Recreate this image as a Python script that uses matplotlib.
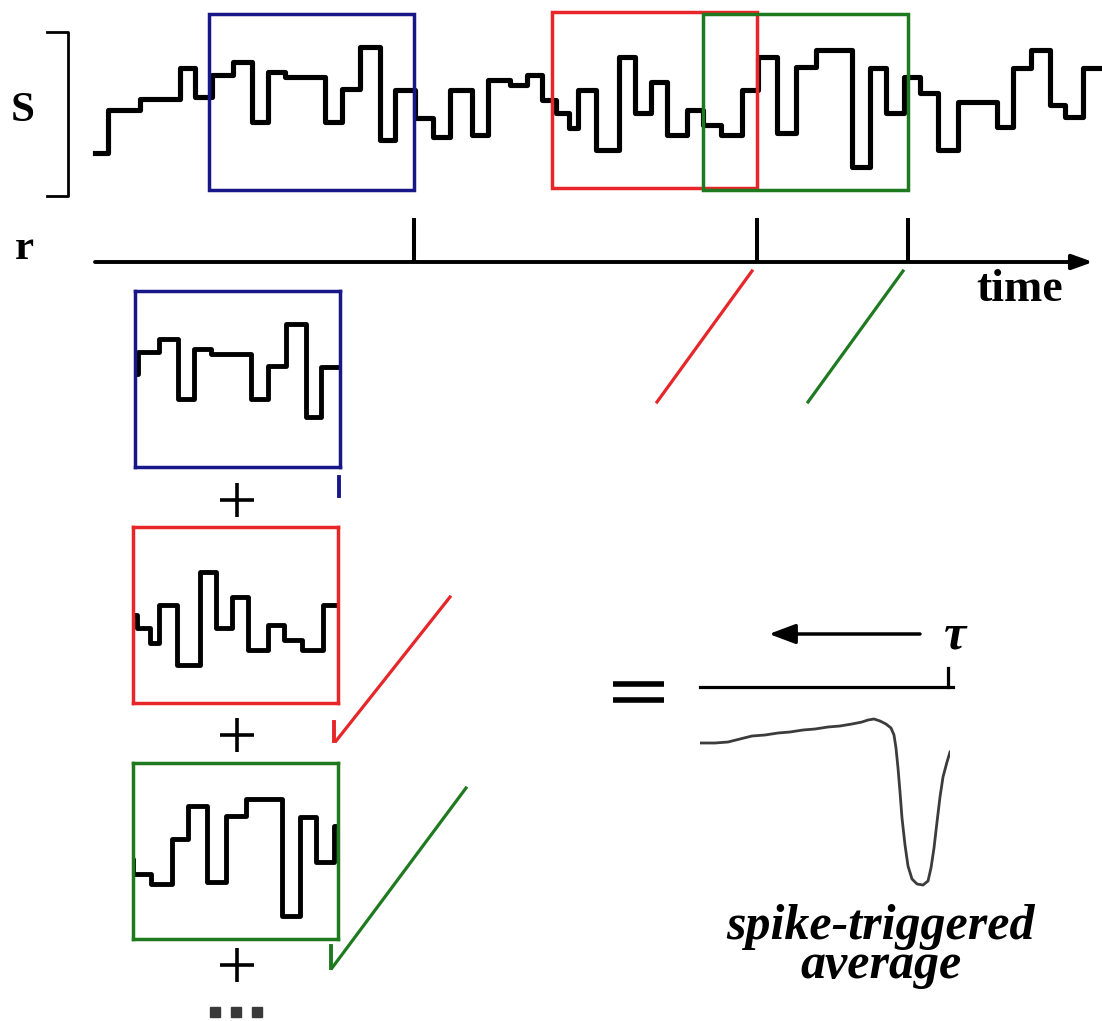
import matplotlib
matplotlib.use("Agg")
import numpy as np
import matplotlib.pyplot as plt
from matplotlib.patches import Rectangle
from matplotlib.transforms import blended_transform_factory

W, H = 1102, 1021

# stimulus s(t): times (ms) at which the level changes, and the level held after each change
stim_t = [0, 13, 45, 85, 100, 117, 138, 157, 173, 190, 230, 247, 265, 285, 300, 320,
          338, 355, 377, 393, 415, 432, 447, 461, 474, 483, 501, 524, 540, 556, 572,
          592, 608, 626, 647, 663, 682, 701, 721, 757, 775, 791, 809, 825, 843, 863,
          902, 918, 936, 955, 970, 988, 1005]
stim_v = [47, 90, 101, 132, 103, 125, 138, 78, 128, 123, 78, 111, 153, 60, 110, 82,
          63, 110, 65, 120, 115, 125, 100, 87, 72, 110, 50, 143, 87, 118, 65,
          90, 75, 65, 110, 143, 67, 133, 150, 33, 132, 87, 123, 107, 50, 98,
          73, 132, 150, 95, 83, 132]

# spike train r(t) and the stretch of stimulus kept before each spike
spike_t = [319, 662, 813]
window = 205
box_lo, box_hi = 10, 186
win_colors = ["#17178a", "#e62628", "#1f7a1f"]

# spike-triggered average, tau = time before the spike (ms)
sta_tau = [-250, -235, -222, -210, -198, -185, -172, -160, -147, -135, -122, -110,
           -98, -88, -82, -76, -70, -64, -59, -56, -54, -52, -50, -48, -45, -42,
           -38, -33, -27, -22, -19, -16, -13, -10, -7, -3, 0]
sta_v = [0, 0, 1, 4, 7, 8, 10, 11, 13, 14, 16, 17, 19, 21, 23, 24, 22, 19, 15, 8,
         -5, -25, -49, -75, -102, -123, -136, -141, -142, -138, -125, -105, -79,
         -54, -34, -19, -9]

fig = plt.figure(figsize=(W / 100, H / 100), dpi=100)
canvas = fig.add_axes([0, 0, 1, 1])
canvas.set_xlim(0, W)
canvas.set_ylim(H, 0)
canvas.axis("off")


def px_axes(x0, y0, x1, y1):
    a = fig.add_axes([x0 / W, 1 - y1 / H, (x1 - x0) / W, (y1 - y0) / H])
    a.set_xticks([])
    a.set_yticks([])
    a.patch.set_alpha(0)
    return a


serif = dict(family="Liberation Serif", weight="bold")
levels = stim_v + [stim_v[-1]]

# full stimulus with the three windows
ax_s = px_axes(95, 0, 1100, 200)
ax_s.set_xlim(0, 1005)
ax_s.set_ylim(0, 200)
for sp in ax_s.spines.values():
    sp.set_visible(False)
ax_s.step(stim_t, levels, where="post", color="k", lw=3.7, clip_on=False)
for i, (t, c) in enumerate(zip(spike_t, win_colors)):
    shift = 2 if i == 1 else 0
    ax_s.add_patch(Rectangle((t - window, box_lo + shift), window, box_hi - box_lo,
                             fill=False, ec=c, lw=2.5, clip_on=False, zorder=3))

# stimulus bracket and labels
canvas.plot([47, 68, 68, 47], [32, 32, 196, 196], color="k", lw=2.0)
canvas.text(23, 111, "S", fontsize=31, ha="center", va="center", **serif)
canvas.text(24, 249, "r", fontsize=31, ha="center", va="center", **serif)

# time axis with spikes
canvas.annotate("", xy=(1093, 262), xytext=(95, 262),
                arrowprops=dict(arrowstyle="-|>,head_length=1.25,head_width=0.45",
                                lw=2.8, color="k", shrinkA=0, shrinkB=0))
canvas.text(1020, 290, "time", fontsize=33, ha="center", va="center", **serif)
spk = blended_transform_factory(ax_s.transData, canvas.transData)
for t in spike_t:
    canvas.plot([t, t], [218, 262], color="k", lw=2.9, transform=spk,
                solid_capstyle="butt")

# flipped windows copied below the axis
for t, c in zip(spike_t[1:], win_colors[1:]):
    x = t + 95
    canvas.plot([x - 5, x - 100], [271, 402], color=c, lw=2.3)

small_boxes = [(135, 291), (133, 527), (133, 763)]
for i, ((x0, y0), t, c) in enumerate(zip(small_boxes, spike_t, win_colors)):
    shift = 2 if i == 1 else 0
    a = px_axes(x0, y0, x0 + window, y0 + (box_hi - box_lo))
    a.set_xlim(t - window, t)
    a.set_ylim(box_lo + shift, box_hi + shift)
    a.step(stim_t, levels, where="post", color="k", lw=3.5)
    for sp in a.spines.values():
        sp.set_color(c)
        sp.set_linewidth(2.5)

canvas.plot([339, 339], [477, 496], color=win_colors[0], lw=2.8)
canvas.plot([450, 336], [597, 741], color=win_colors[1], lw=2.3)
canvas.plot([334, 334], [722, 741], color=win_colors[1], lw=2.8)
canvas.plot([466, 332], [788, 968], color=win_colors[2], lw=2.3)
canvas.plot([331, 331], [946, 968], color=win_colors[2], lw=2.8)

for y in [500, 735, 965]:
    canvas.plot(237, y, marker="+", ms=25, mew=2.6, color="k")
canvas.plot([215, 236, 257], [1012, 1012, 1012], ls="none", marker="s", ms=6.5,
            color="#3a3a3a")

# "=" and the average
canvas.plot([613, 664], [684, 684], color="k", lw=4.0, solid_capstyle="butt")
canvas.plot([613, 664], [700, 700], color="k", lw=4.0, solid_capstyle="butt")

ax_a = px_axes(700, 650, 950, 900)
ax_a.set_xlim(-250, 0)
ax_a.set_ylim(-157, 93)
for sp in ax_a.spines.values():
    sp.set_visible(False)
ax_a.plot(sta_tau, sta_v, color="#3c3c3c", lw=2.0)
ax_a.plot([-250, 3], [56, 56], color="k", lw=2.3, clip_on=False)
ax_a.plot([-2, -2], [56, 75], color="k", lw=2.3, clip_on=False)
ax_a.annotate("", xy=(-181, 109), xytext=(-30, 109),
              arrowprops=dict(arrowstyle="-|>,head_length=1.6,head_width=0.6",
                              lw=2.5, color="k", shrinkA=0, shrinkB=0),
              annotation_clip=False)
canvas.text(955, 636, "τ", fontsize=36, style="italic", ha="center", va="center",
            **serif)

canvas.text(881, 946, "spike-triggered\naverage", fontsize=36, style="italic",
            ha="center", va="center", multialignment="center", linespacing=0.8,
            **serif)

fig.savefig("out.png", dpi=100)
